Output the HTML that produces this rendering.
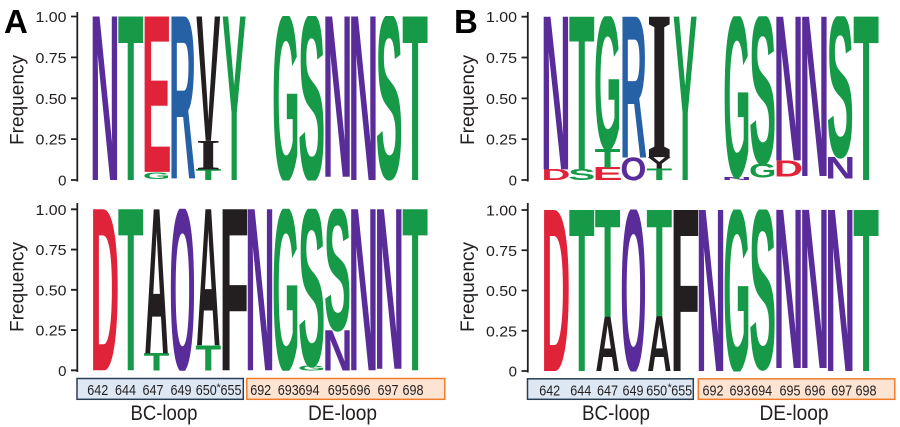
<!DOCTYPE html>
<html><head><meta charset="utf-8"><style>
html,body{margin:0;padding:0;background:#fff;}
svg{display:block;}
.L{font-family:"Liberation Sans",sans-serif;font-weight:bold;}
.I{font-family:"Liberation Serif",serif;font-weight:bold;}
.t{font-family:"Liberation Sans",sans-serif;fill:#231f20;}
</style></head><body>
<svg width="900" height="427" viewBox="0 0 900 427" xmlns="http://www.w3.org/2000/svg">
<defs>
<clipPath id="cAT"><rect x="80" y="16" width="370" height="164.5"/></clipPath>
<clipPath id="cAB"><rect x="80" y="208.8" width="370" height="162"/></clipPath>
<clipPath id="cBT"><rect x="530" y="16.2" width="370" height="164.3"/></clipPath>
<clipPath id="cBB"><rect x="530" y="209.5" width="370" height="162"/></clipPath>
</defs>
<rect width="900" height="427" fill="#fff"/>

<!-- Panel labels -->
<text class="L" x="4" y="33" font-size="33" fill="#000">A</text>
<text class="L" x="454" y="33" font-size="33" fill="#000">B</text>

<!-- Y axis titles -->
<text class="t" font-size="19.5" text-anchor="middle" textLength="90" lengthAdjust="spacingAndGlyphs" transform="translate(23.5,100) rotate(-90)">Frequency</text>
<text class="t" font-size="19.5" text-anchor="middle" textLength="90" lengthAdjust="spacingAndGlyphs" transform="translate(23.5,287) rotate(-90)">Frequency</text>
<text class="t" font-size="19.5" text-anchor="middle" textLength="90" lengthAdjust="spacingAndGlyphs" transform="translate(474,100) rotate(-90)">Frequency</text>
<text class="t" font-size="19.5" text-anchor="middle" textLength="90" lengthAdjust="spacingAndGlyphs" transform="translate(474,287) rotate(-90)">Frequency</text>

<!-- Axes -->
<g stroke="#231f20" stroke-width="1.8" fill="none">
<path d="M77.3,12V181.5 M71,16.5H77.3 M71,57.4H77.3 M71,98.3H77.3 M71,139.1H77.3 M71,180H77.3"/>
<path d="M77.3,203V372 M71,209.3H77.3 M71,249.55H77.3 M71,289.8H77.3 M71,330.05H77.3 M71,370.3H77.3"/>
<path d="M527.8,12V181.5 M521.5,16.7H527.8 M521.5,57.5H527.8 M521.5,98.35H527.8 M521.5,139.2H527.8 M521.5,180H527.8"/>
<path d="M527.8,203V372.5 M521.5,210H527.8 M521.5,250.25H527.8 M521.5,290.5H527.8 M521.5,330.75H527.8 M521.5,371H527.8"/>
</g>

<!-- Tick labels -->
<g class="t" font-size="15" text-anchor="end">
<text x="66.5" y="22" textLength="31" lengthAdjust="spacingAndGlyphs">1.00</text>
<text x="66.5" y="62.9" textLength="31" lengthAdjust="spacingAndGlyphs">0.75</text>
<text x="66.5" y="103.8" textLength="31" lengthAdjust="spacingAndGlyphs">0.50</text>
<text x="66.5" y="144.6" textLength="31" lengthAdjust="spacingAndGlyphs">0.25</text>
<text x="66.5" y="185.5">0</text>
<text x="66.5" y="214.8" textLength="31" lengthAdjust="spacingAndGlyphs">1.00</text>
<text x="66.5" y="255" textLength="31" lengthAdjust="spacingAndGlyphs">0.75</text>
<text x="66.5" y="295.3" textLength="31" lengthAdjust="spacingAndGlyphs">0.50</text>
<text x="66.5" y="335.5" textLength="31" lengthAdjust="spacingAndGlyphs">0.25</text>
<text x="66.5" y="375.8">0</text>
<text x="517" y="22.2" textLength="31" lengthAdjust="spacingAndGlyphs">1.00</text>
<text x="517" y="63" textLength="31" lengthAdjust="spacingAndGlyphs">0.75</text>
<text x="517" y="103.85" textLength="31" lengthAdjust="spacingAndGlyphs">0.50</text>
<text x="517" y="144.7" textLength="31" lengthAdjust="spacingAndGlyphs">0.25</text>
<text x="517" y="185.5">0</text>
<text x="517" y="215.5" textLength="31" lengthAdjust="spacingAndGlyphs">1.00</text>
<text x="517" y="255.75" textLength="31" lengthAdjust="spacingAndGlyphs">0.75</text>
<text x="517" y="296" textLength="31" lengthAdjust="spacingAndGlyphs">0.50</text>
<text x="517" y="336.25" textLength="31" lengthAdjust="spacingAndGlyphs">0.25</text>
<text x="517" y="376.5">0</text>
</g>

<!-- Panel A top -->
<g clip-path="url(#cAT)" lengthAdjust="spacingAndGlyphs">
<text class="L" x="89.9" y="180" font-size="237.6" textLength="30" lengthAdjust="spacingAndGlyphs" fill="#5a2c9a">N</text>
<text class="L" x="117.85" y="180" font-size="237.6" textLength="25.8" lengthAdjust="spacingAndGlyphs" fill="#179a48">T</text>
<text class="L" x="142.95" y="179.2" font-size="9.5" textLength="27.3" lengthAdjust="spacingAndGlyphs" fill="#179a48">G</text>
<text class="L" x="141.6" y="171.8" font-size="225.7" textLength="30" lengthAdjust="spacingAndGlyphs" fill="#e02339">E</text>
<text class="L" x="168.95" y="178.4" font-size="235.3" textLength="27" lengthAdjust="spacingAndGlyphs" fill="#2660a5">R</text>
<text class="L" x="195.4" y="180" font-size="15.4" textLength="25.8" lengthAdjust="spacingAndGlyphs" fill="#179a48">T</text>
<text class="I" x="195.8" y="169.4" font-size="43.7" textLength="25" lengthAdjust="spacingAndGlyphs" fill="#231f20">I</text>
<text class="L" x="196.2" y="140.8" font-size="180.6" textLength="24.2" lengthAdjust="spacingAndGlyphs" fill="#231f20">V</text>
<text class="L" x="222.05" y="180" font-size="237.6" textLength="24.2" lengthAdjust="spacingAndGlyphs" fill="#179a48">Y</text>
<text class="L" x="272.2" y="180" font-size="237.6" textLength="27.3" lengthAdjust="spacingAndGlyphs" fill="#179a48">G</text>
<text class="L" x="298.2" y="180" font-size="237.6" textLength="27" lengthAdjust="spacingAndGlyphs" fill="#179a48">S</text>
<text class="L" x="322.55" y="176.7" font-size="232.9" textLength="30" lengthAdjust="spacingAndGlyphs" fill="#5a2c9a">N</text>
<text class="L" x="348.4" y="180" font-size="237.6" textLength="30" lengthAdjust="spacingAndGlyphs" fill="#5a2c9a">N</text>
<text class="L" x="375.75" y="178.4" font-size="235.3" textLength="27" lengthAdjust="spacingAndGlyphs" fill="#179a48">S</text>
<text class="L" x="402.2" y="180" font-size="237.6" textLength="25.8" lengthAdjust="spacingAndGlyphs" fill="#179a48">T</text>
</g>

<!-- Panel A bottom -->
<g clip-path="url(#cAB)">
<text class="L" x="90.4" y="370.3" font-size="234" textLength="29" lengthAdjust="spacingAndGlyphs" fill="#e02339">D</text>
<text class="L" x="117.85" y="370.3" font-size="234" textLength="25.8" lengthAdjust="spacingAndGlyphs" fill="#179a48">T</text>
<text class="L" x="143.7" y="370.3" font-size="24.6" textLength="25.8" lengthAdjust="spacingAndGlyphs" fill="#179a48">T</text>
<text class="L" x="144.5" y="353.4" font-size="209.4" textLength="24.2" lengthAdjust="spacingAndGlyphs" fill="#231f20">A</text>
<text class="L" x="169.45" y="370.3" font-size="234" textLength="26" lengthAdjust="spacingAndGlyphs" fill="#5a2c9a">Q</text>
<text class="L" x="195.4" y="370.3" font-size="36.3" textLength="25.8" lengthAdjust="spacingAndGlyphs" fill="#179a48">T</text>
<text class="L" x="196.2" y="345.3" font-size="197.7" textLength="24.2" lengthAdjust="spacingAndGlyphs" fill="#231f20">A</text>
<text class="L" x="219.35" y="370.3" font-size="234" textLength="29.6" lengthAdjust="spacingAndGlyphs" fill="#231f20">F</text>
<text class="L" x="245" y="370.3" font-size="234" textLength="30" lengthAdjust="spacingAndGlyphs" fill="#5a2c9a">N</text>
<text class="L" x="272.2" y="370.3" font-size="234" textLength="27.3" lengthAdjust="spacingAndGlyphs" fill="#179a48">G</text>
<text class="L" x="298.05" y="370.3" font-size="7" textLength="27.3" lengthAdjust="spacingAndGlyphs" fill="#179a48">G</text>
<text class="L" x="298.2" y="365.5" font-size="227" textLength="27" lengthAdjust="spacingAndGlyphs" fill="#179a48">S</text>
<text class="L" x="322.55" y="370.3" font-size="58.5" textLength="30" lengthAdjust="spacingAndGlyphs" fill="#5a2c9a">N</text>
<text class="L" x="324.05" y="330.05" font-size="175.5" textLength="27" lengthAdjust="spacingAndGlyphs" fill="#179a48">S</text>
<text class="L" x="348.4" y="370.3" font-size="234" textLength="30" lengthAdjust="spacingAndGlyphs" fill="#5a2c9a">N</text>
<text class="L" x="374.25" y="368.7" font-size="231.7" textLength="30" lengthAdjust="spacingAndGlyphs" fill="#5a2c9a">N</text>
<text class="L" x="402.2" y="370.3" font-size="234" textLength="25.8" lengthAdjust="spacingAndGlyphs" fill="#179a48">T</text>
</g>

<!-- Panel B top -->
<g clip-path="url(#cBT)">
<text class="L" x="541.4" y="180" font-size="15.4" textLength="29" lengthAdjust="spacingAndGlyphs" fill="#e02339">D</text>
<text class="L" x="540.9" y="169.4" font-size="221.9" textLength="30" lengthAdjust="spacingAndGlyphs" fill="#5a2c9a">N</text>
<text class="L" x="568.25" y="180" font-size="15.4" textLength="27" lengthAdjust="spacingAndGlyphs" fill="#179a48">S</text>
<text class="L" x="568.85" y="169.4" font-size="221.9" textLength="25.8" lengthAdjust="spacingAndGlyphs" fill="#179a48">T</text>
<text class="L" x="592.6" y="180" font-size="18.3" textLength="30" lengthAdjust="spacingAndGlyphs" fill="#e02339">E</text>
<text class="L" x="594.7" y="167.4" font-size="26.8" textLength="25.8" lengthAdjust="spacingAndGlyphs" fill="#179a48">T</text>
<text class="L" x="593.95" y="149" font-size="192.3" textLength="27.3" lengthAdjust="spacingAndGlyphs" fill="#179a48">G</text>
<text class="L" x="620.45" y="180" font-size="32.8" textLength="26" lengthAdjust="spacingAndGlyphs" fill="#5a2c9a">Q</text>
<text class="L" x="619.95" y="157.5" font-size="204.6" textLength="27" lengthAdjust="spacingAndGlyphs" fill="#2660a5">R</text>
<text class="L" x="646.4" y="180" font-size="16.6" textLength="25.8" lengthAdjust="spacingAndGlyphs" fill="#179a48">T</text>
<text class="L" x="647.2" y="168.6" font-size="16.6" textLength="24.2" lengthAdjust="spacingAndGlyphs" fill="#231f20">Y</text>
<text class="I" x="646.8" y="157.1" font-size="214.4" textLength="25" lengthAdjust="spacingAndGlyphs" fill="#231f20">I</text>
<text class="L" x="673.05" y="180" font-size="237.4" textLength="24.2" lengthAdjust="spacingAndGlyphs" fill="#179a48">Y</text>
<text class="L" x="721.85" y="180" font-size="4.7" textLength="30" lengthAdjust="spacingAndGlyphs" fill="#5a2c9a">N</text>
<text class="L" x="723.2" y="176.7" font-size="232.6" textLength="27.3" lengthAdjust="spacingAndGlyphs" fill="#179a48">G</text>
<text class="L" x="749.05" y="177.3" font-size="20.3" textLength="27.3" lengthAdjust="spacingAndGlyphs" fill="#179a48">G</text>
<text class="L" x="749.2" y="163.3" font-size="213.1" textLength="27" lengthAdjust="spacingAndGlyphs" fill="#179a48">S</text>
<text class="L" x="774.05" y="176.5" font-size="23.3" textLength="29" lengthAdjust="spacingAndGlyphs" fill="#e02339">D</text>
<text class="L" x="773.55" y="160.3" font-size="208.7" textLength="30" lengthAdjust="spacingAndGlyphs" fill="#5a2c9a">N</text>
<text class="L" x="799.4" y="176" font-size="231.5" textLength="30" lengthAdjust="spacingAndGlyphs" fill="#5a2c9a">N</text>
<text class="L" x="825.25" y="178.3" font-size="31.4" textLength="30" lengthAdjust="spacingAndGlyphs" fill="#5a2c9a">N</text>
<text class="L" x="826.75" y="156.7" font-size="203.5" textLength="27" lengthAdjust="spacingAndGlyphs" fill="#179a48">S</text>
<text class="L" x="853.2" y="180" font-size="237.4" textLength="25.8" lengthAdjust="spacingAndGlyphs" fill="#179a48">T</text>
</g>

<!-- Panel B bottom -->
<g clip-path="url(#cBB)">
<text class="L" x="541.4" y="371" font-size="234" textLength="29" lengthAdjust="spacingAndGlyphs" fill="#e02339">D</text>
<text class="L" x="568.85" y="371" font-size="234" textLength="25.8" lengthAdjust="spacingAndGlyphs" fill="#179a48">T</text>
<text class="L" x="595.5" y="371" font-size="78.9" textLength="24.2" lengthAdjust="spacingAndGlyphs" fill="#231f20">A</text>
<text class="L" x="594.7" y="316.7" font-size="155.1" textLength="25.8" lengthAdjust="spacingAndGlyphs" fill="#179a48">T</text>
<text class="L" x="620.45" y="371" font-size="234" textLength="26" lengthAdjust="spacingAndGlyphs" fill="#5a2c9a">Q</text>
<text class="L" x="647.2" y="371" font-size="79.6" textLength="24.2" lengthAdjust="spacingAndGlyphs" fill="#231f20">A</text>
<text class="L" x="646.4" y="316.3" font-size="154.5" textLength="25.8" lengthAdjust="spacingAndGlyphs" fill="#179a48">T</text>
<text class="L" x="670.35" y="371" font-size="234" textLength="29.6" lengthAdjust="spacingAndGlyphs" fill="#231f20">F</text>
<text class="L" x="696" y="371" font-size="234" textLength="30" lengthAdjust="spacingAndGlyphs" fill="#5a2c9a">N</text>
<text class="L" x="723.2" y="371" font-size="234" textLength="27.3" lengthAdjust="spacingAndGlyphs" fill="#179a48">G</text>
<text class="L" x="749.2" y="368.6" font-size="230.5" textLength="27" lengthAdjust="spacingAndGlyphs" fill="#179a48">S</text>
<text class="L" x="773.55" y="368" font-size="229.9" textLength="30" lengthAdjust="spacingAndGlyphs" fill="#5a2c9a">N</text>
<text class="L" x="799.4" y="368" font-size="229.9" textLength="30" lengthAdjust="spacingAndGlyphs" fill="#5a2c9a">N</text>
<text class="L" x="825.25" y="371" font-size="234" textLength="30" lengthAdjust="spacingAndGlyphs" fill="#5a2c9a">N</text>
<text class="L" x="853.2" y="371" font-size="234" textLength="25.8" lengthAdjust="spacingAndGlyphs" fill="#179a48">T</text>
</g>

<!-- Boxes -->
<rect x="77" y="378.5" width="166.3" height="20.8" fill="#dde8f4" stroke="#2a3d52" stroke-width="1.5"/>
<rect x="246.8" y="378.5" width="198" height="20.8" fill="#fde4d2" stroke="#f07d2c" stroke-width="1.5"/>
<rect x="527.5" y="378.8" width="165.8" height="20.5" fill="#dde8f4" stroke="#2a3d52" stroke-width="1.5"/>
<rect x="698.3" y="378.8" width="196.5" height="20.5" fill="#fde4d2" stroke="#f07d2c" stroke-width="1.5"/>

<!-- Position numbers -->
<g class="t" font-size="15" text-anchor="middle">
<text x="97.8" y="395" textLength="21" lengthAdjust="spacingAndGlyphs">642</text>
<text x="125.5" y="395" textLength="21" lengthAdjust="spacingAndGlyphs">644</text>
<text x="153" y="395" textLength="21" lengthAdjust="spacingAndGlyphs">647</text>
<text x="181" y="395" textLength="21" lengthAdjust="spacingAndGlyphs">649</text>
<text x="206.3" y="395" textLength="21" lengthAdjust="spacingAndGlyphs">650</text>
<text x="231" y="395" textLength="21" lengthAdjust="spacingAndGlyphs">655</text>
<text x="260.7" y="395" textLength="21" lengthAdjust="spacingAndGlyphs">692</text>
<text x="288.3" y="395" textLength="21" lengthAdjust="spacingAndGlyphs">693</text>
<text x="309" y="395" textLength="21" lengthAdjust="spacingAndGlyphs">694</text>
<text x="338.3" y="395" textLength="21" lengthAdjust="spacingAndGlyphs">695</text>
<text x="360" y="395" textLength="21" lengthAdjust="spacingAndGlyphs">696</text>
<text x="388" y="395" textLength="21" lengthAdjust="spacingAndGlyphs">697</text>
<text x="413" y="395" textLength="21" lengthAdjust="spacingAndGlyphs">698</text>
<text x="549.7" y="395.3" textLength="21" lengthAdjust="spacingAndGlyphs">642</text>
<text x="580.8" y="395.3" textLength="21" lengthAdjust="spacingAndGlyphs">644</text>
<text x="607.5" y="395.3" textLength="21" lengthAdjust="spacingAndGlyphs">647</text>
<text x="633" y="395.3" textLength="21" lengthAdjust="spacingAndGlyphs">649</text>
<text x="656.7" y="395.3" textLength="21" lengthAdjust="spacingAndGlyphs">650</text>
<text x="681.7" y="395.3" textLength="21" lengthAdjust="spacingAndGlyphs">655</text>
<text x="713" y="395.3" textLength="21" lengthAdjust="spacingAndGlyphs">692</text>
<text x="740" y="395.3" textLength="21" lengthAdjust="spacingAndGlyphs">693</text>
<text x="761.7" y="395.3" textLength="21" lengthAdjust="spacingAndGlyphs">694</text>
<text x="790" y="395.3" textLength="21" lengthAdjust="spacingAndGlyphs">695</text>
<text x="815" y="395.3" textLength="21" lengthAdjust="spacingAndGlyphs">696</text>
<text x="841.7" y="395.3" textLength="21" lengthAdjust="spacingAndGlyphs">697</text>
<text x="866" y="395.3" textLength="21" lengthAdjust="spacingAndGlyphs">698</text>
</g>
<text class="t" x="218.6" y="391" font-size="11" text-anchor="middle">*</text>
<text class="t" x="669.6" y="391" font-size="11" text-anchor="middle">*</text>

<!-- Loop labels -->
<g class="t" font-size="21" text-anchor="middle">
<text x="164" y="420" textLength="67" lengthAdjust="spacingAndGlyphs">BC-loop</text>
<text x="342.5" y="420" textLength="69" lengthAdjust="spacingAndGlyphs">DE-loop</text>
<text x="616" y="420" textLength="68" lengthAdjust="spacingAndGlyphs">BC-loop</text>
<text x="794" y="420" textLength="69" lengthAdjust="spacingAndGlyphs">DE-loop</text>
</g>
</svg>
</body></html>
